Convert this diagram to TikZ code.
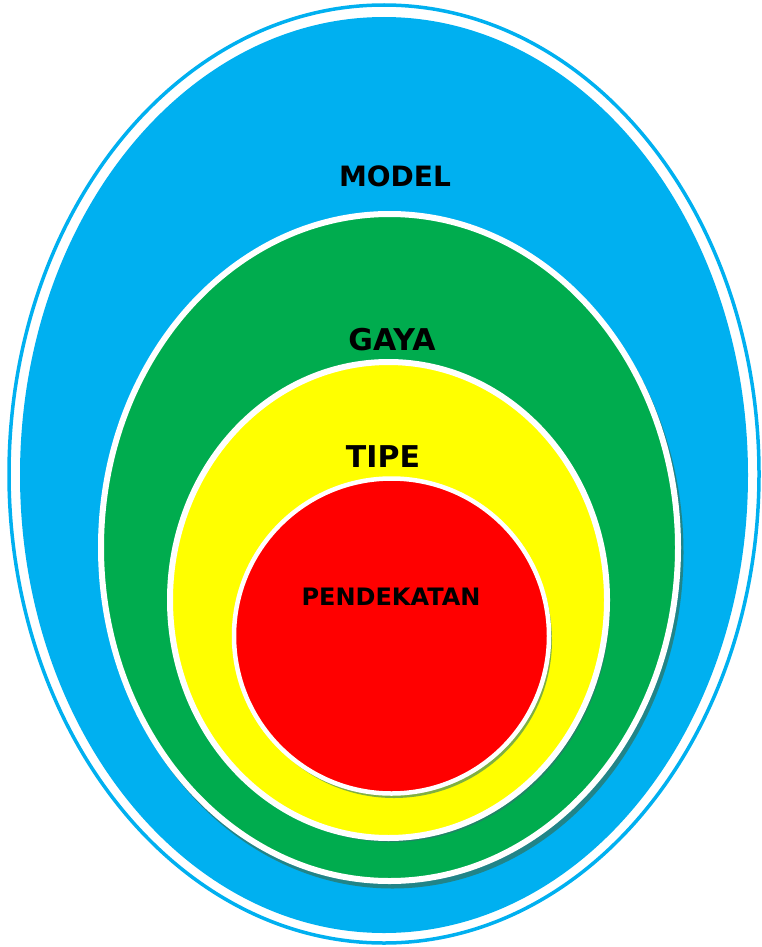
\documentclass[tikz,border=0pt]{standalone}
\usepackage{fontspec}
\setsansfont{DejaVu Sans}
\usetikzlibrary{positioning}

\definecolor{modelblue}{HTML}{00B0F0}
\definecolor{gayagreen}{HTML}{00AC4E}
\definecolor{tipeyellow}{HTML}{FFFF00}
\definecolor{pendred}{HTML}{FF0000}
\definecolor{shadeteal}{HTML}{2A7A6E}

\begin{document}
\begin{tikzpicture}[
    x=1pt, y=-1pt,
    layer/.style={draw=white, line width=6pt},
    shade/.style={fill=shadeteal, opacity=0.8},
    lbl/.style={font=\sffamily\bfseries\fontsize{28}{32}\selectfont, text=black, inner sep=0pt}
]
\useasboundingbox (0,0) rectangle (761,947);

% Outer ring and model area
\draw[modelblue, line width=3.5pt] (384,474) ellipse [x radius=375pt, y radius=469pt];
\fill[modelblue] (384,475) ellipse [x radius=364pt, y radius=458pt];

% Gaya
\fill[shade] (392.5,552.5) ellipse [x radius=291pt, y radius=336pt];
\filldraw[layer, fill=gayagreen] (389.5,547.5) ellipse [x radius=288.5pt, y radius=333.5pt];

% Tipe
\fill[shade] (391.5,604) ellipse [x radius=218.5pt, y radius=238pt];
\filldraw[layer, fill=tipeyellow] (388.5,600) ellipse [x radius=218.5pt, y radius=238pt];

% Pendekatan
\fill[shade, opacity=0.6] (394,640) circle [radius=158pt];
\filldraw[layer, line width=4.5pt, fill=pendred] (391.5,636) circle [radius=157.5pt];

% Labels
\node[lbl] (model) at (395,176) {MODEL};
\node[lbl, font=\sffamily\bfseries\fontsize{30}{34}\selectfont] (gaya) at (392,340) {GAYA};
\node[lbl, font=\sffamily\bfseries\fontsize{30}{34}\selectfont] (tipe) at (383,457) {TIPE};
\node[lbl, font=\sffamily\bfseries\fontsize{24}{28}\selectfont] (pend) at (391,597) {PENDEKATAN};

\end{tikzpicture}
\end{document}
